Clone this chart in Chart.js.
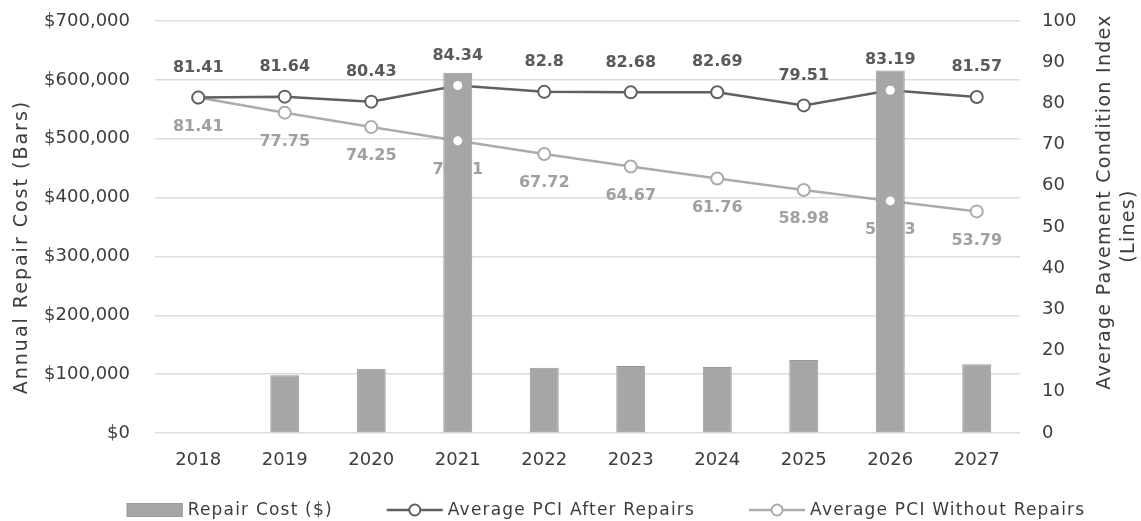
<!DOCTYPE html>
<html>
<head>
<meta charset="utf-8">
<title>Annual Repair Cost and Average PCI</title>
<script src="https://cdn.jsdelivr.net/npm/chart.js@4.4.1/dist/chart.umd.min.js"></script>
<style>
  html, body { margin: 0; padding: 0; background: #ffffff; }
  #wrap { width: 1141px; height: 521px; position: relative; }
</style>
</head>
<body>
<div id="wrap"><canvas id="chart" width="1141" height="521"></canvas></div>
<script>
// ---- data ----
const years = ['2018', '2019', '2020', '2021', '2022', '2023', '2024', '2025', '2026', '2027'];
const repairCost = [0, 98000, 109000, 612000, 111000, 114000, 112000, 124000, 616000, 117000];
const pciAfterRepairs = [81.41, 81.64, 80.43, 84.34, 82.8, 82.68, 82.69, 79.51, 83.19, 81.57];
const pciWithoutRepairs = [81.41, 77.75, 74.25, 70.91, 67.72, 64.67, 61.76, 58.98, 56.33, 53.79];

const costAxis = { min: 0, max: 700000, step: 100000 };
const pciAxis = { min: 0, max: 100, step: 10 };

const seriesNames = ['Repair Cost ($)', 'Average PCI After Repairs', 'Average PCI Without Repairs'];
const leftTitle = 'Annual Repair Cost (Bars)';
const rightTitle = ['Average Pavement Condition Index', '(Lines)'];

// ---- styling ----
const FONT = '"DejaVu Sans", "Liberation Sans", sans-serif';
const TEXT = '#3d3d3d';
const BAR = '#a6a6a6';
const DARK_LINE = '#606060';
const LIGHT_LINE = '#ababab';

const fmtMoney = v => '$' + Number(v).toLocaleString('en-US');

// keep the plot area edges fixed: no extra room for tick-label overhang
function fixVertical(width) {
  return scale => {
    scale.width = width;
    scale.paddingTop = 0;
    scale.paddingBottom = 0;
  };
}

// value labels, drawn underneath the datasets so the tall bars cover them
const valueLabels = {
  id: 'valueLabels',
  beforeDatasetsDraw(chart) {
    const ctx = chart.ctx;
    chart.data.datasets.forEach((ds, i) => {
      if (ds.type !== 'line') return;
      const meta = chart.getDatasetMeta(i);
      ctx.save();
      ctx.font = 'bold 16px ' + FONT;
      ctx.fillStyle = ds.labelColor;
      ctx.textAlign = 'center';
      ctx.textBaseline = 'middle';
      meta.data.forEach((pt, j) => {
        ctx.fillText(String(ds.data[j]), pt.x, pt.y + ds.labelOffset);
      });
      ctx.restore();
    });
  }
};

// white centres of the markers stay visible where a bar sits over them
const markerCentres = {
  id: 'markerCentres',
  afterDatasetsDraw(chart) {
    const ctx = chart.ctx;
    ctx.save();
    ctx.fillStyle = '#ffffff';
    chart.data.datasets.forEach((ds, i) => {
      if (ds.type !== 'line') return;
      chart.getDatasetMeta(i).data.forEach(pt => {
        ctx.beginPath();
        ctx.arc(pt.x, pt.y, 4.5, 0, Math.PI * 2);
        ctx.fill();
      });
    });
    ctx.restore();
  }
};

// axis titles and legend row
const frame = {
  id: 'frame',
  afterDraw(chart) {
    const ctx = chart.ctx;
    ctx.save();
    ctx.fillStyle = TEXT;
    ctx.font = '19px ' + FONT;
    ctx.textAlign = 'center';
    ctx.textBaseline = 'middle';

    // left title
    ctx.save();
    ctx.letterSpacing = '2px';
    ctx.translate(22, 247);
    ctx.rotate(-Math.PI / 2);
    ctx.fillText(leftTitle, 0, 0);
    ctx.restore();

    // right title, two lines reading upwards
    ctx.save();
    ctx.letterSpacing = '1.3px';
    const rx = [1105, 1129];
    const ry = [202, 226];
    rightTitle.forEach((line, k) => {
      ctx.save();
      ctx.translate(rx[k], ry[k]);
      ctx.rotate(-Math.PI / 2);
      ctx.fillText(line, 0, 0);
      ctx.restore();
    });
    ctx.restore();

    // legend
    ctx.font = '17px ' + FONT;
    ctx.letterSpacing = '1.2px';
    ctx.textAlign = 'left';
    const sample = 56, sampleGap = 5, itemGap = 54, ly = 510;
    const widths = chart.data.datasets.map(ds => sample + sampleGap + ctx.measureText(ds.label).width);
    const total = widths.reduce((a, b) => a + b, 0) + itemGap * (widths.length - 1);
    let x = 606 - total / 2;
    chart.data.datasets.forEach((ds, i) => {
      if (ds.type === 'bar') {
        ctx.fillStyle = BAR;
        ctx.fillRect(x, ly - 7, sample, 14);
        ctx.strokeStyle = '#9a9a9a';
        ctx.lineWidth = 1;
        ctx.strokeRect(x + 0.5, ly - 6.5, sample - 1, 13);
      } else {
        ctx.strokeStyle = ds.borderColor;
        ctx.lineWidth = 2.5;
        ctx.beginPath();
        ctx.moveTo(x, ly);
        ctx.lineTo(x + sample, ly);
        ctx.stroke();
        ctx.beginPath();
        ctx.arc(x + sample / 2, ly, 5.5, 0, Math.PI * 2);
        ctx.fillStyle = '#ffffff';
        ctx.fill();
        ctx.lineWidth = 2;
        ctx.stroke();
      }
      ctx.fillStyle = TEXT;
      ctx.fillText(ds.label, x + sample + sampleGap, ly + 1);
      x += widths[i] + itemGap;
    });
    ctx.restore();
  }
};

new Chart(document.getElementById('chart'), {
  data: {
    labels: years,
    datasets: [
      {
        type: 'bar',
        label: seriesNames[0],
        data: repairCost,
        yAxisID: 'y',
        order: 0,
        backgroundColor: BAR,
        borderColor: '#999999',
        borderWidth: 1,
        borderSkipped: false,
        categoryPercentage: 1,
        barPercentage: 0.335
      },
      {
        type: 'line',
        label: seriesNames[1],
        data: pciAfterRepairs,
        yAxisID: 'y1',
        order: 1,
        borderColor: DARK_LINE,
        borderWidth: 2.5,
        pointRadius: 6,
        pointBorderWidth: 2,
        pointBackgroundColor: '#ffffff',
        pointBorderColor: DARK_LINE,
        tension: 0,
        labelColor: '#5a5a5a',
        labelOffset: -30
      },
      {
        type: 'line',
        label: seriesNames[2],
        data: pciWithoutRepairs,
        yAxisID: 'y1',
        order: 2,
        borderColor: LIGHT_LINE,
        borderWidth: 2.5,
        pointRadius: 6,
        pointBorderWidth: 2,
        pointBackgroundColor: '#ffffff',
        pointBorderColor: LIGHT_LINE,
        tension: 0,
        labelColor: '#a0a0a0',
        labelOffset: 29
      }
    ]
  },
  options: {
    responsive: false,
    animation: false,
    devicePixelRatio: 1,
    layout: { padding: { top: 21, bottom: 40, left: 0, right: 0 } },
    plugins: {
      legend: { display: false },
      tooltip: { enabled: false }
    },
    scales: {
      x: {
        grid: { display: false, drawTicks: false },
        border: { display: false },
        ticks: { color: TEXT, font: { family: FONT, size: 18 }, padding: 17, maxRotation: 0 },
        afterFit(scale) { scale.height = 48; }
      },
      y: {
        position: 'left',
        min: costAxis.min,
        max: costAxis.max,
        grid: { color: '#dcdcdc', lineWidth: 1.5, drawTicks: false },
        border: { display: false },
        ticks: {
          stepSize: costAxis.step,
          color: TEXT,
          font: { family: FONT, size: 18 },
          padding: 25,
          callback: v => fmtMoney(v)
        },
        afterFit: fixVertical(155)
      },
      y1: {
        position: 'right',
        min: pciAxis.min,
        max: pciAxis.max,
        grid: { display: false, drawTicks: false },
        border: { display: false },
        ticks: {
          stepSize: pciAxis.step,
          color: TEXT,
          font: { family: FONT, size: 18 },
          padding: 22
        },
        afterFit: fixVertical(121)
      }
    }
  },
  plugins: [valueLabels, markerCentres, frame]
});
</script>
</body>
</html>
